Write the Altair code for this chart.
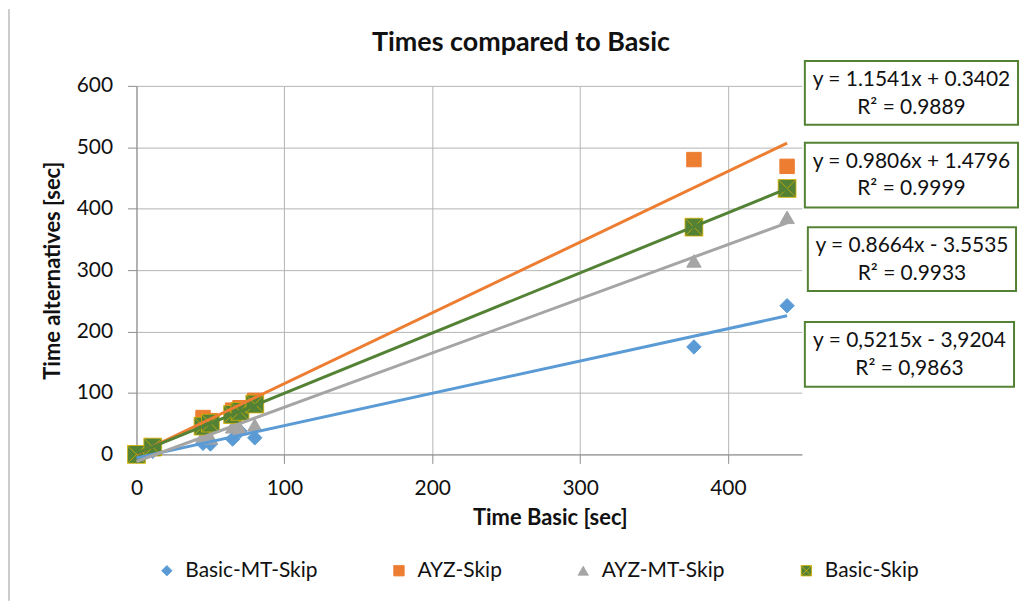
import altair as alt
import pandas as pd

# ---- data ----
series_names = ["Basic-MT-Skip", "AYZ-Skip", "AYZ-MT-Skip", "Basic-Skip"]
x_basic = [0, 11, 45, 50, 65, 70, 80, 377, 440]
basic_mt_skip = [0, 5, 18, 17, 25, 38, 27, 175, 242]
ayz_skip = [0, 12, 60, 55, 72, 76, 88, 480, 469]
ayz_mt_skip = [0, 8, 30, 27, 45, 42, 48, 315, 386]
basic_skip = [0, 12, 46, 51, 65, 70, 82, 370, 433]

equations = [
    ("y = 1.1541x + 0.3402", "R² = 0.9889"),
    ("y = 0.9806x + 1.4796", "R² = 0.9999"),
    ("y = 0.8664x - 3.5535", "R² = 0.9933"),
    ("y = 0,5215x - 3,9204", "R² = 0,9863"),
]

chart_title = "Times compared to Basic"
x_ticks = [0, 100, 200, 300, 400]
y_ticks = [0, 100, 200, 300, 400, 500, 600]

rows = []
for name, ys in zip(series_names, [basic_mt_skip, ayz_skip, ayz_mt_skip, basic_skip]):
    for xv, yv in zip(x_basic, ys):
        rows.append({"series": name, "x": xv, "y": yv})
df = pd.DataFrame(rows)

# ---- styles ----
FONT = "Lato"
fill_colors = ["#5B9BD5", "#ED7D31", "#A5A5A5", "#548235"]
stroke_colors = ["#5B9BD5", "#ED7D31", "#A5A5A5", "#D6B000"]
line_colors = ["#5B9BD5", "#ED7D31", "#A5A5A5", "#548235"]
shapes = ["diamond", "square", "triangle-up", "M-1,-1H1V1H-1Z M-1,-1L1,1 M-1,1L1,-1"]

W, H = 668, 370

legend = alt.Legend(
    title=None, orient="none", direction="horizontal", columns=4,
    legendX=20, legendY=476, labelFontSize=21, labelFont=FONT, labelColor="#111",
    symbolSize=110, columnPadding=71, labelOffset=8, padding=0, labelLimit=300,
    symbolStrokeWidth=0.8,
)

xenc = alt.X("x:Q", scale=alt.Scale(domain=[0, 450], nice=False),
             axis=alt.Axis(values=x_ticks, title="Time Basic [sec]", titleX=415, labelFlush=False))
yenc = alt.Y("y:Q", scale=alt.Scale(domain=[0, 600], nice=False),
             axis=alt.Axis(values=y_ticks, title="Time alternatives [sec]"))

fill_enc = alt.Fill("series:N", scale=alt.Scale(domain=series_names, range=fill_colors), legend=legend)
stroke_enc = alt.Stroke("series:N", scale=alt.Scale(domain=series_names, range=stroke_colors), legend=legend)
shape_enc = alt.Shape("series:N", scale=alt.Scale(domain=series_names, range=shapes), legend=legend)

pts_small = alt.Chart(df).transform_filter(alt.datum.series != "Basic-Skip").mark_point(
    filled=True, size=210, opacity=1, strokeWidth=1
).encode(x=xenc, y=yenc, fill=fill_enc, stroke=stroke_enc, shape=shape_enc)

pts_big = alt.Chart(df).transform_filter(alt.datum.series == "Basic-Skip").mark_point(
    filled=True, size=320, opacity=1, strokeWidth=0.8
).encode(x=xenc, y=yenc, fill=fill_enc, stroke=stroke_enc, shape=shape_enc)

lines = alt.Chart(df).transform_regression(
    "x", "y", groupby=["series"], method="linear"
).mark_line(strokeWidth=3).encode(
    x="x:Q", y="y:Q",
    color=alt.Color("series:N", scale=alt.Scale(domain=series_names, range=line_colors), legend=None),
)

# ---- annotation boxes (trendline equations) ----
boxes = [
    (671, 885, -25, 39),
    (671, 885, 57, 122),
    (674, 883, 142, 206),
    (671, 881, 237, 302),
]
one = alt.Data(values=[{}])
ann_layers = []
for (x1, x2, y1, y2), (l1, l2) in zip(boxes, equations):
    ann_layers.append(
        alt.Chart(one).mark_rect(fill="white", stroke="#548235", strokeWidth=2).encode(
            x=alt.value(x1), x2=alt.value(x2), y=alt.value(y1), y2=alt.value(y2)
        )
    )
    cx = (x1 + x2) / 2
    for txt, ty in [(l1, y1 + 19), (l2, y1 + 47)]:
        ann_layers.append(
            alt.Chart(one).mark_text(
                text=txt, font=FONT, fontSize=21, color="#111", align="center", baseline="middle"
            ).encode(x=alt.value(cx), y=alt.value(ty))
        )

title_layer = alt.Chart(one).mark_text(
    text=chart_title, font=FONT, fontSize=27, fontWeight="bold", color="#111",
    align="center", baseline="middle"
).encode(x=alt.value(386), y=alt.value(-43))

border = alt.Chart(one).mark_rule(color="#9A9A9A", strokeWidth=1).encode(
    x=alt.value(-128), y=alt.value(-77), y2=alt.value(517)
)

chart = alt.layer(border, pts_small, pts_big, lines, title_layer, *ann_layers).properties(
    width=W, height=H,
    padding={"left": 129, "top": 77, "right": 221, "bottom": 147},
    autosize=alt.AutoSizeParams(type="none"),
).configure_view(stroke=None).configure_axis(
    labelFont=FONT, labelFontSize=21, labelColor="#111",
    titleFont=FONT, titleFontSize=22, titleFontWeight="bold", titleColor="#111",
    gridColor="#B4B4B4", gridWidth=1, domainColor="#8C8C8C", tickColor="#8C8C8C",
    tickSize=9,
).configure_axisY(
    labelPadding=15, titlePadding=12,
).configure_axisX(
    labelPadding=14, titlePadding=9,
)

chart.save("out.html", embed_options={"renderer": "svg", "actions": False})
